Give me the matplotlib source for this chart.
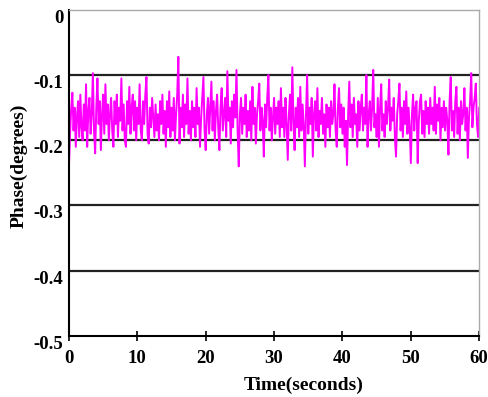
import numpy as np
import matplotlib
matplotlib.use('Agg')
import matplotlib.pyplot as plt

# phase readings, 6 samples per second
phase = [
    -0.240, -0.190, -0.150, -0.127, -0.185, -0.150,
    -0.210, -0.165, -0.140, -0.195, -0.130, -0.180,
    -0.200, -0.145, -0.185, -0.114, -0.210, -0.155,
    -0.135, -0.190, -0.160, -0.097, -0.185, -0.220,
    -0.150, -0.105, -0.175, -0.140, -0.215, -0.160,
    -0.130, -0.190, -0.114, -0.175, -0.145, -0.200,
    -0.160, -0.135, -0.185, -0.210, -0.140, -0.175,
    -0.130, -0.195, -0.150, -0.170, -0.105, -0.185,
    -0.145, -0.200, -0.210, -0.140, -0.175, -0.118,
    -0.190, -0.150, -0.130, -0.185, -0.140, -0.200,
    -0.150, -0.175, -0.114, -0.185, -0.200, -0.140,
    -0.175, -0.130, -0.103, -0.190, -0.205, -0.150,
    -0.180, -0.135, -0.165, -0.195, -0.145, -0.185,
    -0.160, -0.200, -0.140, -0.175, -0.130, -0.190,
    -0.155, -0.210, -0.140, -0.180, -0.125, -0.195,
    -0.150, -0.185, -0.135, -0.200, -0.160, -0.130,
    -0.072, -0.205, -0.150, -0.180, -0.130, -0.195,
    -0.145, -0.175, -0.105, -0.190, -0.155, -0.200,
    -0.140, -0.180, -0.150, -0.195, -0.120, -0.175,
    -0.150, -0.210, -0.165, -0.135, -0.103, -0.185,
    -0.215, -0.160, -0.135, -0.190, -0.150, -0.110,
    -0.185, -0.140, -0.200, -0.155, -0.130, -0.180,
    -0.215, -0.150, -0.120, -0.185, -0.160, -0.135,
    -0.195, -0.094, -0.170, -0.150, -0.205, -0.140,
    -0.180, -0.130, -0.165, -0.092, -0.185, -0.240,
    -0.160, -0.135, -0.190, -0.150, -0.175, -0.130,
    -0.195, -0.155, -0.185, -0.140, -0.200, -0.118,
    -0.175, -0.150, -0.205, -0.160, -0.140, -0.113,
    -0.185, -0.150, -0.170, -0.225, -0.145, -0.180,
    -0.135, -0.100, -0.185, -0.150, -0.200, -0.165,
    -0.135, -0.190, -0.150, -0.175, -0.140, -0.195,
    -0.120, -0.180, -0.150, -0.195, -0.135, -0.175,
    -0.230, -0.160, -0.130, -0.185, -0.088, -0.170,
    -0.215, -0.150, -0.180, -0.135, -0.195, -0.118,
    -0.185, -0.145, -0.175, -0.240, -0.160, -0.100,
    -0.190, -0.150, -0.175, -0.135, -0.225, -0.160,
    -0.140, -0.185, -0.120, -0.195, -0.155, -0.175,
    -0.135, -0.190, -0.160, -0.210, -0.145, -0.180,
    -0.150, -0.195, -0.140, -0.175, -0.160, -0.114,
    -0.185, -0.210, -0.150, -0.120, -0.180, -0.145,
    -0.190, -0.150, -0.210, -0.170, -0.238, -0.160,
    -0.110, -0.180, -0.145, -0.195, -0.135, -0.175,
    -0.160, -0.210, -0.140, -0.185, -0.150, -0.130,
    -0.185, -0.150, -0.175, -0.100, -0.210, -0.160,
    -0.140, -0.185, -0.150, -0.092, -0.180, -0.160,
    -0.195, -0.135, -0.210, -0.150, -0.114, -0.185,
    -0.160, -0.195, -0.140, -0.175, -0.150, -0.107,
    -0.185, -0.150, -0.170, -0.135, -0.195, -0.225,
    -0.160, -0.140, -0.113, -0.185, -0.150, -0.195,
    -0.140, -0.175, -0.125, -0.190, -0.150, -0.180,
    -0.235, -0.160, -0.130, -0.185, -0.150, -0.140,
    -0.235, -0.170, -0.140, -0.130, -0.190, -0.155,
    -0.195, -0.140, -0.175, -0.150, -0.190, -0.135,
    -0.175, -0.150, -0.185, -0.118, -0.190, -0.145,
    -0.170, -0.135, -0.200, -0.150, -0.180, -0.140,
    -0.185, -0.150, -0.170, -0.222, -0.140, -0.103,
    -0.185, -0.155, -0.195, -0.140, -0.118, -0.190,
    -0.150, -0.200, -0.140, -0.175, -0.160, -0.120,
    -0.185, -0.150, -0.227, -0.165, -0.140, -0.097,
    -0.180, -0.150, -0.135, -0.113, -0.175, -0.195,
    -0.150,
]
time = np.linspace(0, 60, len(phase))

xticks = [0, 10, 20, 30, 40, 50, 60]
yticks = [0, -0.1, -0.2, -0.3, -0.4, -0.5]
ytick_labels = ['0', '-0.1', '-0.2', '-0.3', '-0.4', '-0.5']
grid_levels = [-0.1, -0.2, -0.3, -0.4]

plt.rcParams['font.family'] = ['Liberation Serif', 'DejaVu Serif']
plt.rcParams['font.weight'] = 'bold'

fig = plt.figure(figsize=(4.89, 3.97), dpi=100)
ax = fig.add_axes([0.141, 0.154, 0.839, 0.821])

for g in grid_levels:
    ax.axhline(g, color='#222222', lw=1.6, zorder=1)

ax.plot(time, phase, color='#ff00ff', lw=1.4, zorder=2)

ax.set_xlim(0, 60)
ax.set_ylim(-0.5, 0)
ax.set_xticks(xticks)
ax.set_yticks(yticks)
ax.set_yticklabels(ytick_labels)

for side in ['left', 'bottom']:
    ax.spines[side].set_color('black')
    ax.spines[side].set_linewidth(1.5)
for side in ['top', 'right']:
    ax.spines[side].set_color('#aaaaaa')
    ax.spines[side].set_linewidth(1.0)

ax.tick_params(axis='x', direction='inout', length=7, width=1.2, labelsize=13.5, pad=7)
ax.tick_params(axis='y', length=0, labelsize=13.5, pad=4)
for lab in ax.get_yticklabels():
    lab.set_va('top')

ax.set_xlabel('Time(seconds)', fontsize=14, fontweight='bold')
ax.set_ylabel('Phase(degrees)', fontsize=14, fontweight='bold')
# labels sit a bit off-centre in the original
ax.xaxis.set_label_coords(0.571, -0.124)
ax.yaxis.set_label_coords(-0.100, 0.521)

fig.savefig('out.png', dpi=100)
